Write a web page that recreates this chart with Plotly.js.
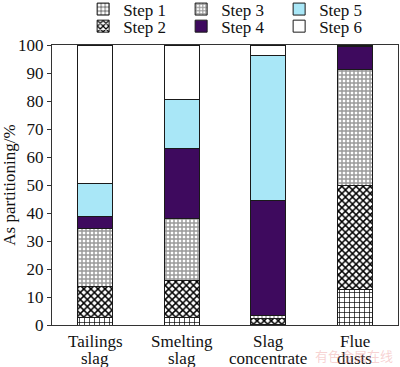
<!DOCTYPE html>
<html>
<head>
<meta charset="utf-8">
<script src="https://cdn.plot.ly/plotly-3.0.1.min.js"></script>
<style>html,body{margin:0;padding:0;background:#fff;}#chart{width:400px;height:367px;}</style>
</head>
<body>
<div id="chart"></div>
<script>
const categories = ["Tailings slag", "Smelting slag", "Slag concentrate", "Flue dusts"];
const labelLine1 = ["Tailings", "Smelting", "Slag", "Flue"];
const labelLine2 = ["slag", "slag", "concentrate", "dusts"];
const stepNames = ["Step 1", "Step 2", "Step 3", "Step 4", "Step 5", "Step 6"];
const step1 = [2.7, 2.7, 0.3, 12.7];
const step2 = [11.2, 13.1, 2.2, 37.2];
const step3 = [20.4, 22.2, 0.8, 41.4];
const step4 = [4.6, 25.2, 41.1, 8.1];
const step5 = [11.7, 17.3, 52.0, 0.0];
const step6 = [49.4, 19.5, 3.6, 0.6];
const yTicks = [0, 10, 20, 30, 40, 50, 60, 70, 80, 90, 100];

const series = [step1, step2, step3, step4, step5, step6];
const styles = [
  {color: "#ffffff", pattern: {shape: "+", fgcolor: "#000000", bgcolor: "#ffffff", size: 5, solidity: 0.25}},
  {color: "#ffffff", pattern: {shape: "x", fgcolor: "#000000", bgcolor: "#ffffff", size: 5, solidity: 0.5}},
  {color: "#ffffff", pattern: {shape: "+", fgcolor: "#9a9a9a", bgcolor: "#ffffff", size: 4, solidity: 0.6}},
  {color: "#3e0a5e"},
  {color: "#a9e7f7"},
  {color: "#ffffff"}
];
// legend rows: Step 1/3/5 on the first row, Step 2/4/6 on the second
const legendRow = ["legend", "legend2", "legend", "legend2", "legend", "legend2"];
const serif = "Times New Roman";

const traces = series.map((vals, i) => {
  const m = {color: styles[i].color, line: {color: "#1a1a1a", width: 1}};
  if (styles[i].pattern) m.pattern = styles[i].pattern;
  return {
    type: "bar", x: categories, y: vals, name: stepNames[i],
    marker: m, width: 0.4, legend: legendRow[i], hoverinfo: "skip"
  };
});

const annotations = [];
categories.forEach((c, i) => {
  annotations.push({x: c, xref: "x", y: -0.06, yref: "paper", yanchor: "middle", text: labelLine1[i], showarrow: false, font: {family: serif, size: 17, color: "#111"}});
  annotations.push({x: c, xref: "x", y: -0.12, yref: "paper", yanchor: "middle", text: labelLine2[i], showarrow: false, font: {family: serif, size: 17, color: "#111"}});
});
annotations.push({x: 0.99, xref: "paper", y: -0.108, yref: "paper", xanchor: "right", yanchor: "middle", text: "有色金属在线", showarrow: false, font: {family: "Noto Sans CJK SC", size: 13, color: "rgba(235,140,140,0.4)"}});

const legendBase = {
  orientation: "h", x: 0.09, xanchor: "left", yanchor: "top",
  entrywidth: 53, entrywidthmode: "pixels", traceorder: "normal",
  font: {family: serif, size: 17, color: "#111"},
  bgcolor: "rgba(0,0,0,0)"
};

const layout = {
  width: 400, height: 367,
  margin: {l: 52, r: 2, t: 45, b: 42, autoexpand: false},
  paper_bgcolor: "#ffffff", plot_bgcolor: "#ffffff",
  barmode: "stack",
  showlegend: true,
  font: {family: serif},
  legend: Object.assign({}, legendBase, {y: 1.191}),
  legend2: Object.assign({}, legendBase, {y: 1.13}),
  xaxis: {
    type: "category", range: [-0.5, 3.5], showticklabels: false, ticks: "",
    showline: true, linecolor: "#333", linewidth: 1, mirror: true, showgrid: false, zeroline: false
  },
  yaxis: {
    range: [0, 100], tickvals: yTicks, ticktext: yTicks.map(String),
    ticks: "outside", ticklen: 4, tickcolor: "#333",
    showline: true, linecolor: "#333", linewidth: 1, mirror: true, showgrid: false, zeroline: false,
    tickfont: {family: serif, size: 17, color: "#111"},
    title: {text: "As partitioning/%", font: {family: serif, size: 17, color: "#111"}, standoff: 8}
  },
  annotations: annotations
};

Plotly.newPlot("chart", traces, layout, {staticPlot: true, displayModeBar: false});
</script>
</body>
</html>
